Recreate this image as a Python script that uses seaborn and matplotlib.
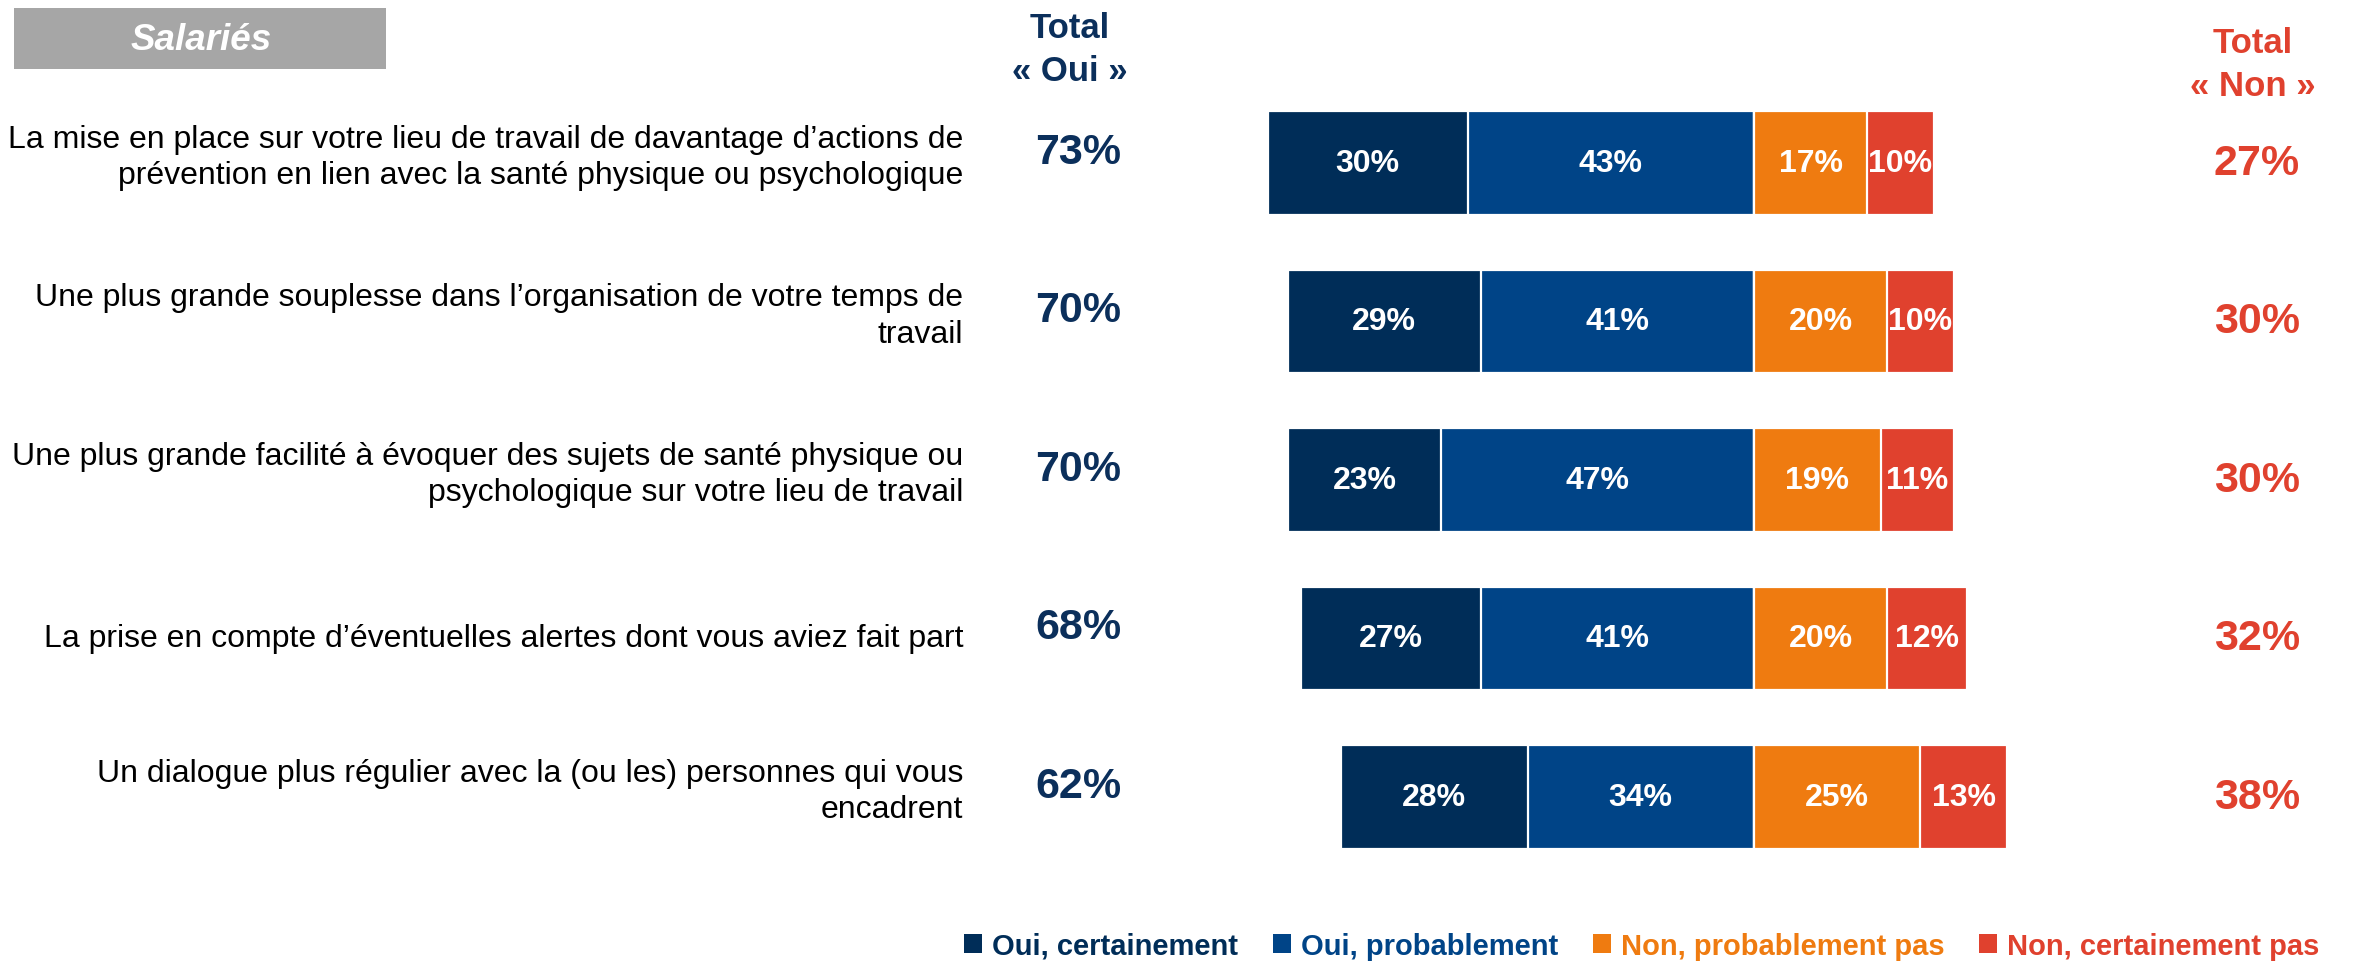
import matplotlib
matplotlib.use("Agg")
import matplotlib.pyplot as plt
import matplotlib.transforms as mtransforms
from matplotlib.patches import Patch, Rectangle
import seaborn as sns
import pandas as pd

categories = [
    "La mise en place sur votre lieu de travail de davantage d\u2019actions de\npr\u00e9vention en lien avec la sant\u00e9 physique ou psychologique",
    "Une plus grande souplesse dans l\u2019organisation de votre temps de\ntravail",
    "Une plus grande facilit\u00e9 \u00e0 \u00e9voquer des sujets de sant\u00e9 physique ou\npsychologique sur votre lieu de travail",
    "La prise en compte d\u2019\u00e9ventuelles alertes dont vous aviez fait part",
    "Un dialogue plus r\u00e9gulier avec la (ou les) personnes qui vous\nencadrent",
]
oui_certainement = [30, 29, 23, 27, 28]
oui_probablement = [43, 41, 47, 41, 34]
non_probablement = [17, 20, 19, 20, 25]
non_certainement = [10, 10, 11, 12, 13]
series_names = ["Oui, certainement", "Oui, probablement", "Non, probablement pas", "Non, certainement pas"]
colors = ["#002D58", "#004487", "#EF7B10", "#E0412E"]
navy_text = "#0B2F5B"
red_text = "#E0412E"

sns.set_theme(style="white")
plt.rcParams["font.family"] = ["Liberation Sans", "DejaVu Sans"]

W, H = 2374, 962
fig = plt.figure(figsize=(W / 100, H / 100), dpi=100)
ax = fig.add_axes([0, 0, 1, 1])

df = pd.DataFrame({
    "cat": categories,
    "oc": oui_certainement,
    "op": oui_probablement,
    "np": non_probablement,
    "nc": non_certainement,
})
df["oui_total"] = df["oc"] + df["op"]
df["non_total"] = df["np"] + df["nc"]
df["neg_total"] = -df["oui_total"]
df["neg_op"] = -df["op"]

bw = 0.656
kw = dict(y="cat", orient="h", width=bw, saturation=1, edgecolor="white", linewidth=1.6, ax=ax)
sns.barplot(data=df, x="neg_total", color=colors[0], **kw)
sns.barplot(data=df, x="neg_op", color=colors[1], **kw)
sns.barplot(data=df, x="non_total", color=colors[3], **kw)
sns.barplot(data=df, x="np", color=colors[2], **kw)

# layout mapping
cx, ppp = 1754, 6.66
y0, dy = 164, 158.5
ax.set_xlim(-cx / ppp, (W - cx) / ppp)
ax.set_ylim((H - y0) / dy, -y0 / dy)
ax.axis("off")

lab_kw = dict(color="white", fontsize=23, fontweight="bold", ha="center", va="center")
for i, r in df.iterrows():
    ax.text(-(r["op"] + r["oc"] / 2), i, f"{r['oc']}%", **lab_kw)
    ax.text(-r["op"] / 2, i, f"{r['op']}%", **lab_kw)
    ax.text(r["np"] / 2, i, f"{r['np']}%", **lab_kw)
    ax.text(r["np"] + r["nc"] / 2, i, f"{r['nc']}%", **lab_kw)

tr = mtransforms.blended_transform_factory(fig.transFigure, ax.transData)
for i, r in df.iterrows():
    off = -0.038 if "\n" in r["cat"] else 0.0
    ax.text(963 / W, i + off, r["cat"], transform=tr, ha="right", va="center",
            fontsize=23, color="black", linespacing=1.27)
    ax.text(1078 / W, i - 0.07, f"{r['oui_total']}%", transform=tr, ha="center", va="center",
            fontsize=31, fontweight="bold", color=navy_text)
    ax.text(2257 / W, i, f"{r['non_total']}%", transform=tr, ha="center", va="center",
            fontsize=31, fontweight="bold", color=red_text)

# headers
fig.text(1070 / W, 1 - 50 / H, "Total\n\u00ab Oui \u00bb", ha="center", va="center",
         fontsize=25, fontweight="bold", color=navy_text, linespacing=1.37)
fig.text(2253 / W, 1 - 65 / H, "Total\n\u00ab Non \u00bb", ha="center", va="center",
         fontsize=25, fontweight="bold", color=red_text, linespacing=1.4)

# Salariés box
fig.patches.append(Rectangle((14 / W, 1 - 70 / H), (386 - 14) / W, (70 - 9) / H,
                             transform=fig.transFigure, facecolor="#A6A6A6", edgecolor="none"))
fig.text(201 / W, 1 - 41 / H, "Salari\u00e9s", ha="center", va="center", fontsize=26.5,
         fontweight="bold", fontstyle="italic", color="white")

# legend
handles = [Patch(facecolor=c, edgecolor="none") for c in colors]
leg = fig.legend(handles, series_names, loc="center", bbox_to_anchor=((958 + 2326) / 2 / W, 1 - 947 / H),
                 ncol=4, frameon=False, handlelength=0.6, handleheight=0.6, handletextpad=0.35,
                 columnspacing=1.2, labelcolor=colors, prop={"weight": "bold", "size": 21})

fig.savefig("out.png", dpi=100)
